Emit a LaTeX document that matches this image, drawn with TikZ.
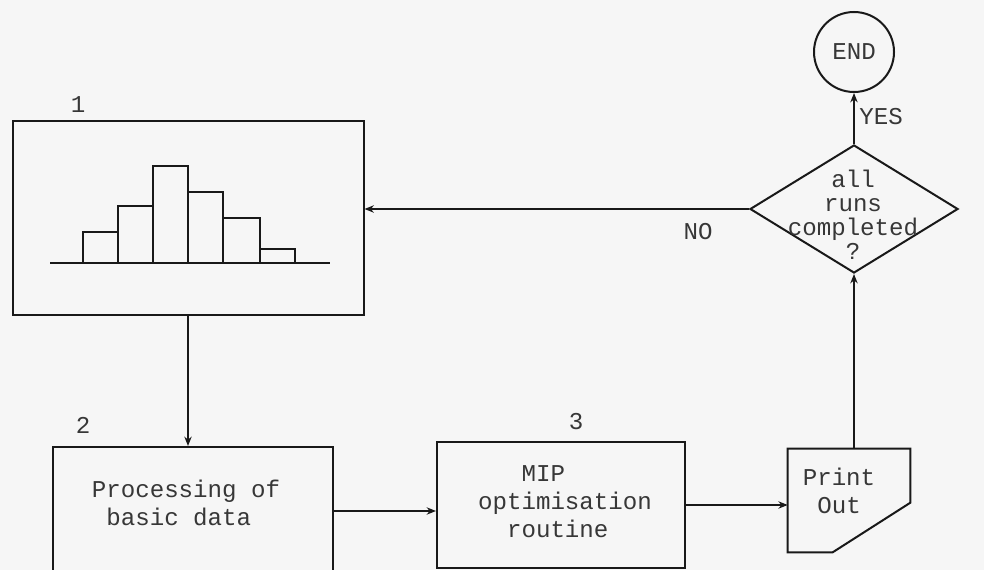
\documentclass[tikz,border=0pt]{standalone}
\usepackage{fontspec}
\setmainfont{Liberation Mono}
\usetikzlibrary{shapes.geometric,arrows.meta,calc}
\definecolor{bg}{RGB}{246,246,246}
\definecolor{ink}{RGB}{25,25,25}
\definecolor{txt}{RGB}{55,55,55}
\begin{document}
\begin{tikzpicture}[x=0.75pt,y=-0.75pt,
  every node/.style={font=\fontsize{18.1}{21}\selectfont, text=txt, inner sep=0pt},
  line/.style={draw=ink, line width=1.5pt},
  boxnode/.style={line, rectangle},
  arr/.style={line, -{Stealth[length=7pt,width=5.5pt]}},
  lbl/.style={}]
\useasboundingbox (0,0) rectangle (984,570);
\fill[bg] (0,0) rectangle (984,570);
\clip (0,0) rectangle (984,570);

% box 1 with histogram
\node[boxnode, minimum width=351*0.75pt, minimum height=194*0.75pt] (box1) at (188,218) {};
\node[lbl] (n1) at (78,105) {1};
\draw[line, line join=miter]
  (83,263) -- (83,232) -- (118,232) -- (118,263)
  (118,232) -- (118,206) -- (153,206) -- (153,263)
  (153,206) -- (153,166) -- (188,166) -- (188,263)
  (188,192) -- (223,192) -- (223,263)
  (223,218) -- (260,218) -- (260,263)
  (260,249) -- (295,249) -- (295,263);
\draw[line] (50,263) -- (330,263);

% box 2
\node[boxnode, minimum width=280*0.75pt, minimum height=128*0.75pt] (box2) at (193,511) {};
\node[lbl] (n2) at (83,425) {2};
\node[align=left] (t2) at (186,503) {Processing of\\~basic data};

% box 3
\node[boxnode, minimum width=248*0.75pt, minimum height=126*0.75pt] (box3) at (561,505) {};
\node[lbl] (n3) at (576,422) {3};
\node[align=left] (t3) at (565,502) {~~~MIP\\optimisation\\~~routine};

% print out
\node[minimum width=122*0.75pt, minimum height=103*0.75pt] (po) at (849,500.5) {};
\draw[line, line join=miter] ($(po.south west)+(45,0)$) -- (po.south west) -- (po.north west) -- (po.north east) -- ($(po.north east)+(0,54)$) -- cycle;
\node[align=left] (tpo) at (839,490.5) {Print\\~Out};

% decision
\node[line, diamond, minimum width=208*0.75pt, minimum height=128*0.75pt] (dia) at (854,209) {};
\node[align=center, font=\fontsize{18.1}{18}\selectfont] (tdia) at (853,215) {all\\runs\\completed\\?};

% end
\node[line, circle, minimum size=80*0.75pt] (end) at (854,52) {END};
\node (yes) at (881,117) {YES};
\node (no) at (698,232) {NO};

% connectors
\draw[arr] (box1.south) -- (box1.south |- box2.north);
\draw[arr] (box2.east) -- (box3.west |- box2.east);
\draw[arr] (box3.east) -- (po.west |- box3.east);
\draw[arr] (dia.south |- po.north) -- (dia.south);
\draw[arr] (dia.west) -- (box1.east |- dia.west);
\draw[arr] (dia.north) -- (end.south);
\end{tikzpicture}
\end{document}
